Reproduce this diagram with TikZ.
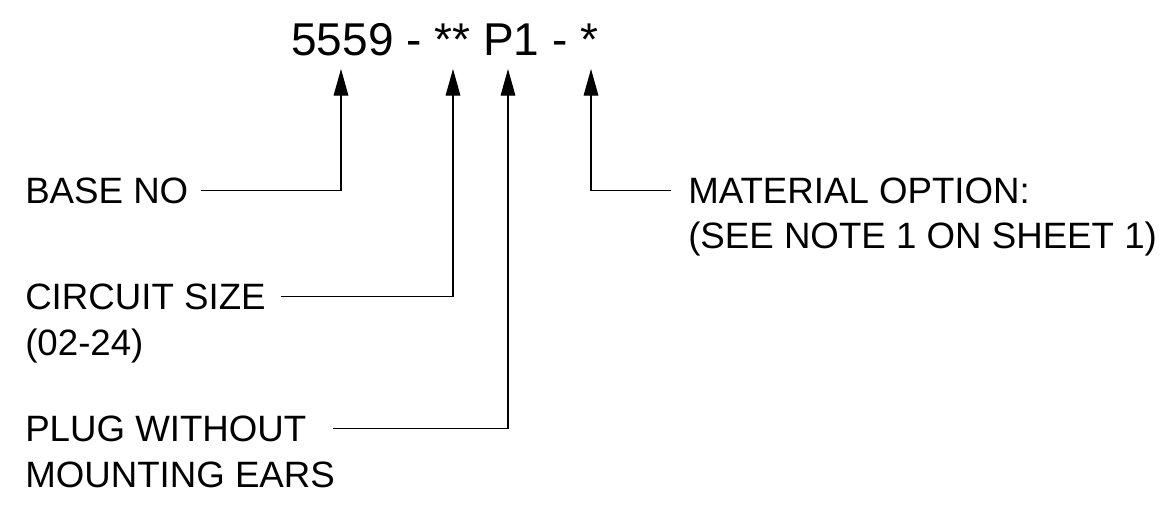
\documentclass[tikz,border=0pt]{standalone}
\usepackage{fontspec}
\setmainfont{Liberation Sans}
\usetikzlibrary{arrows.meta}

\begin{document}
\begin{tikzpicture}[x=0.75pt,y=0.75pt,yscale=-1,xscale=1,
    lbl/.style={anchor=base west,inner sep=0pt,font=\fontsize{27.5}{34.5}\selectfont},
    ptr/.style={line width=0.8pt,-{Triangle[length=20pt,width=11pt]}}]
    \useasboundingbox (0,0) rectangle (1162,506); %set diagram to 1162 x 506

    % Part number
    \node [anchor=base west,inner sep=0pt,font=\fontsize{34.5}{40}\selectfont] (partno) at (291,56) {5559 - ** P1 - *};
    \coordinate (tipA) at (341,69);
    \coordinate (tipB) at (453,69);
    \coordinate (tipC) at (508,69);
    \coordinate (tipD) at (591,69);

    % Text Node
    \node [lbl] (base) at (25,203) {BASE NO};
    % Text Node
    \node [lbl] (circuit) at (25,309) {CIRCUIT SIZE};
    \node [lbl] (circuitb) at (25,355) {(02-24)};
    % Text Node
    \node [lbl] (plug) at (25,441) {PLUG WITHOUT};
    \node [lbl] (plugb) at (25,487) {MOUNTING EARS};
    % Text Node
    \node [lbl] (material) at (688,203) {MATERIAL OPTION:};
    \node [lbl] (materialb) at (688,248) {(SEE NOTE 1 ON SHEET 1)};

    % Connection
    \draw [ptr] ([xshift=9]base.east) -| (tipA);
    % Connection
    \draw [ptr] ([xshift=11]circuit.east) -| (tipB);
    % Connection
    \draw [ptr] ([xshift=20]plug.east) -| (tipC);
    % Connection
    \draw [ptr] ([xshift=-13]material.west) -| (tipD);

\end{tikzpicture}
\end{document}
